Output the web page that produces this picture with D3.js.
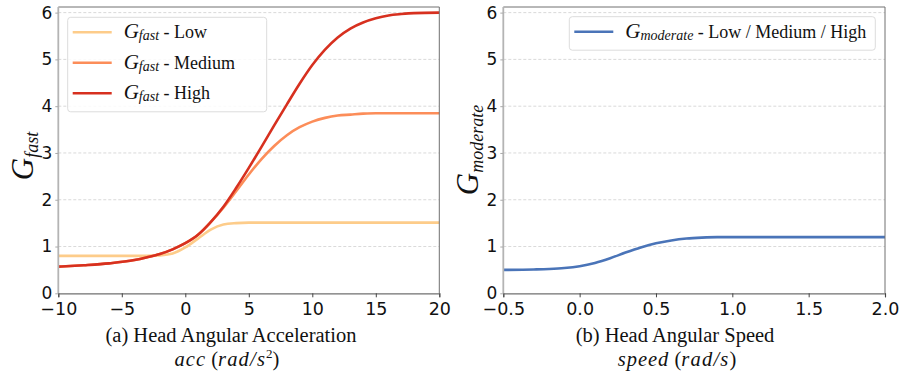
<!DOCTYPE html>
<html>
<head>
<meta charset="utf-8">
<script src="https://cdn.jsdelivr.net/npm/d3@7/dist/d3.min.js"></script>
<style>
  body { margin: 0; background: #fff; }
  svg { display: block; }
</style>
</head>
<body>
<div id="chart"></div>
<script>
// values
const accX = [-10, -8, -6, -4, -3, -2, -1, 0, 1, 2, 3, 4, 5, 6, 7, 8, 9, 10, 11, 12, 13, 14, 15, 16, 17, 18, 20];
const gFastLow = [0.80, 0.80, 0.80, 0.80, 0.80, 0.81, 0.85, 0.98, 1.17, 1.36, 1.47, 1.50, 1.51, 1.51, 1.51, 1.51, 1.51, 1.51, 1.51, 1.51, 1.51, 1.51, 1.51, 1.51, 1.51, 1.51, 1.51];
const gFastMedium = [0.57, 0.60, 0.64, 0.71, 0.77, 0.84, 0.94, 1.07, 1.25, 1.52, 1.83, 2.18, 2.54, 2.87, 3.15, 3.38, 3.55, 3.67, 3.75, 3.80, 3.82, 3.84, 3.85, 3.85, 3.85, 3.85, 3.85];
const gFastHigh = [0.57, 0.60, 0.64, 0.71, 0.77, 0.84, 0.94, 1.07, 1.25, 1.52, 1.85, 2.25, 2.68, 3.13, 3.59, 4.04, 4.48, 4.88, 5.21, 5.47, 5.66, 5.79, 5.88, 5.94, 5.97, 5.99, 6.00];

const speedX = [-0.5, -0.3, -0.2, -0.1, 0, 0.1, 0.2, 0.3, 0.4, 0.5, 0.6, 0.7, 0.8, 0.9, 1.0, 1.5, 2.0];
const gModerate = [0.50, 0.51, 0.52, 0.54, 0.58, 0.65, 0.75, 0.87, 0.98, 1.07, 1.13, 1.17, 1.19, 1.20, 1.20, 1.20, 1.20];

const accTicks = [-10, -5, 0, 5, 10, 15, 20];
const speedTicks = [-0.5, 0, 0.5, 1, 1.5, 2];
const gTicks = [0, 1, 2, 3, 4, 5, 6];

const fastLevels = ['Low', 'Medium', 'High'];
const fastColors = ['#fdcc8a', '#fc8d59', '#d7301f'];
const moderateColor = '#4a74b8';

const W = 901, H = 378;
const plotTop = 7, plotBottom = 293.3;
const serif = '"Liberation Serif", "DejaVu Serif", serif';
const sans = '"DejaVu Sans", sans-serif';

const svg = d3.select('#chart').append('svg')
  .attr('width', W)
  .attr('height', H);

const y = d3.scaleLinear().domain([0, 6.12]).range([plotBottom, plotTop]);

const fmtMinus = s => s.replace('-', '\u2212');

function drawPanel(opt) {
  const x = d3.scaleLinear().domain(opt.domain).range([opt.left, opt.right]);
  const g = svg.append('g');

  // grid
  g.selectAll('.grid').data(gTicks.filter(d => d > 0)).enter().append('line')
    .attr('x1', opt.left).attr('x2', opt.right)
    .attr('y1', d => y(d)).attr('y2', d => y(d))
    .attr('stroke', '#cfcfcf').attr('stroke-width', 0.8)
    .attr('stroke-dasharray', '3,2');

  // lines
  const line = d3.line()
    .x((d, i) => x(opt.xs[i]))
    .y(d => y(d))
    .curve(d3.curveMonotoneX);

  opt.series.forEach((s, i) => {
    g.append('path')
      .datum(s.values)
      .attr('fill', 'none')
      .attr('stroke', s.color)
      .attr('stroke-width', 2.6)
      .attr('d', line);
  });

  // spines
  g.append('line').attr('x1', opt.left).attr('x2', opt.right).attr('y1', plotTop).attr('y2', plotTop)
    .attr('stroke', '#707070').attr('stroke-width', 1);
  g.append('line').attr('x1', opt.right).attr('x2', opt.right).attr('y1', plotTop).attr('y2', plotBottom)
    .attr('stroke', '#707070').attr('stroke-width', 1);
  g.append('line').attr('x1', opt.left).attr('x2', opt.left).attr('y1', plotTop).attr('y2', plotBottom)
    .attr('stroke', '#b4b4b4').attr('stroke-width', 1.8);

  // x axis
  const xAxis = g.append('g')
    .attr('transform', `translate(0,${plotBottom})`)
    .call(d3.axisBottom(x).tickValues(opt.ticks).tickSize(4).tickPadding(5)
      .tickFormat(d => fmtMinus(opt.fmt(d))));
  xAxis.select('.domain').attr('stroke', '#707070').attr('stroke-width', 1.2);
  xAxis.selectAll('.tick line').attr('stroke', '#444');
  xAxis.selectAll('text').attr('font-family', sans).attr('font-size', 17.5).attr('fill', '#111');

  // y axis
  const yAxis = g.append('g')
    .attr('transform', `translate(${opt.left},0)`)
    .call(d3.axisLeft(y).tickValues(gTicks).tickSize(3).tickPadding(3).tickFormat(d3.format('d')));
  yAxis.select('.domain').remove();
  yAxis.selectAll('.tick line').attr('stroke', '#aaa');
  yAxis.selectAll('text').attr('font-family', sans).attr('font-size', 17).attr('fill', '#111');

  // y label
  const yl = svg.append('text')
    .attr('transform', `translate(${opt.ylabX},${opt.ylabY}) rotate(-90)`)
    .attr('text-anchor', 'middle')
    .attr('font-family', serif).attr('font-style', 'italic').attr('fill', '#111');
  yl.append('tspan').attr('font-size', 31).text('G');
  yl.append('tspan').attr('font-size', 18).attr('dy', 5).text(opt.sub);

  // captions
  svg.append('text')
    .attr('x', opt.cap1X).attr('y', 342)
    .attr('text-anchor', 'middle')
    .attr('font-family', serif).attr('font-size', 20.5).attr('fill', '#111')
    .text(opt.cap1);
  const c2 = svg.append('text')
    .attr('x', opt.cap2X).attr('y', 366)
    .attr('text-anchor', 'middle')
    .attr('font-family', serif).attr('font-size', 20.5).attr('fill', '#111');
  opt.cap2(c2);

  // legend
  const lg = svg.append('g').attr('transform', `translate(${opt.legX},${opt.legY})`);
  lg.append('rect')
    .attr('width', opt.legW).attr('height', opt.series.length * 30.5 + 3)
    .attr('rx', 3)
    .attr('fill', '#fff').attr('fill-opacity', 0.85)
    .attr('stroke', '#dcdcdc').attr('stroke-width', 1);
  const items = lg.selectAll('.item').data(opt.series).enter().append('g')
    .attr('transform', (d, i) => `translate(0,${15 + i * 30.5})`);
  items.append('line')
    .attr('x1', 5).attr('x2', 44)
    .attr('stroke', d => d.color).attr('stroke-width', 2.6);
  const t = items.append('text')
    .attr('x', 56).attr('y', 6)
    .attr('font-family', serif).attr('fill', '#111');
  t.append('tspan').attr('font-style', 'italic').attr('font-size', 21).text('G');
  t.append('tspan').attr('font-style', 'italic').attr('font-size', 14).attr('dy', 2).text(opt.sub);
  t.append('tspan').attr('font-size', 18).attr('dy', -2).text(d => ' - ' + d.label);
}

drawPanel({
  domain: [-10, 20], left: 58.3, right: 439.3,
  xs: accX, ticks: accTicks, fmt: d3.format('d'),
  series: fastLevels.map((lvl, i) => ({
    label: lvl, color: fastColors[i],
    values: [gFastLow, gFastMedium, gFastHigh][i]
  })),
  sub: 'fast', ylabX: 33, ylabY: 156,
  cap1: '(a) Head Angular Acceleration', cap1X: 231,
  cap2: el => {
    el.append('tspan').attr('font-style', 'italic').attr('letter-spacing', 1).text('acc');
    el.append('tspan').text(' (');
    el.append('tspan').attr('font-style', 'italic').attr('letter-spacing', 1.2).text('rad/s');
    el.append('tspan').attr('font-size', 13).attr('dy', -8).text('2');
    el.append('tspan').attr('dy', 8).text(')');
  },
  cap2X: 227,
  legX: 67.7, legY: 17.3, legW: 199
});

drawPanel({
  domain: [-0.5, 2.0], left: 503.3, right: 885,
  xs: speedX, ticks: speedTicks, fmt: d3.format('.1f'),
  series: [{label: 'Low / Medium / High', color: moderateColor, values: gModerate}],
  sub: 'moderate', ylabX: 478, ylabY: 150,
  cap1: '(b) Head Angular Speed', cap1X: 675,
  cap2: el => {
    el.append('tspan').attr('font-style', 'italic').attr('letter-spacing', 1).text('speed');
    el.append('tspan').text(' (');
    el.append('tspan').attr('font-style', 'italic').attr('letter-spacing', 1.2).text('rad/s');
    el.append('tspan').text(')');
  },
  cap2X: 677,
  legX: 569.3, legY: 16.7, legW: 306
});
</script>
</body>
</html>
